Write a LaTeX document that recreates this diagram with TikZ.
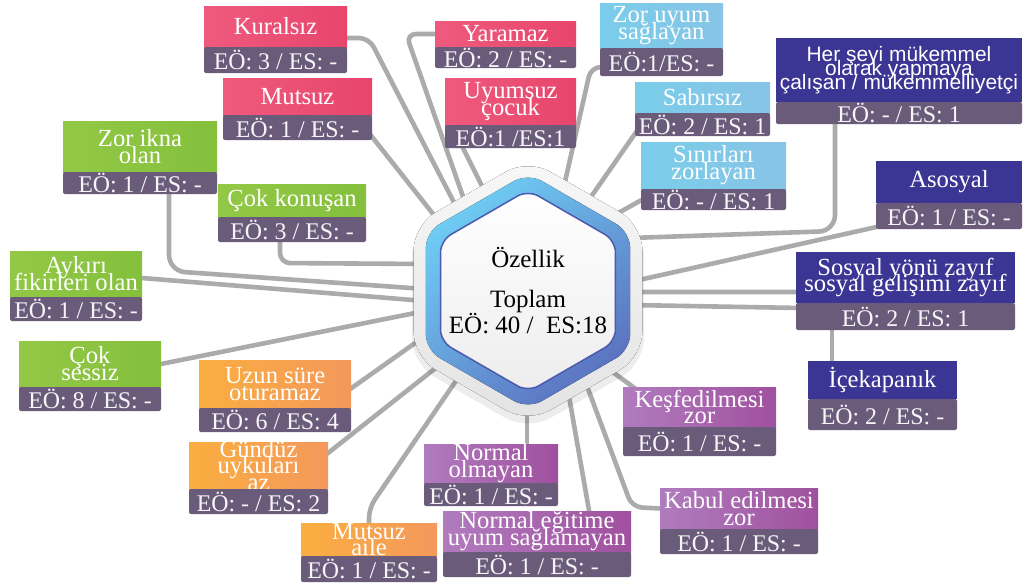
\documentclass[tikz,border=0pt]{standalone}
\usepackage{fontspec}
\setmainfont{Liberation Serif}
\newfontfamily\duzyazi{Liberation Sans}
\usetikzlibrary{positioning,calc}

\definecolor{pembeA}{HTML}{EE5A7D}
\definecolor{pembeB}{HTML}{E8456C}
\definecolor{yesilA}{HTML}{92C845}
\definecolor{yesilB}{HTML}{84C03C}
\definecolor{turuncuA}{HTML}{FAAE40}
\definecolor{turuncuB}{HTML}{F4985C}
\definecolor{morA}{HTML}{B07CBE}
\definecolor{morB}{HTML}{A0509E}
\definecolor{maviA}{HTML}{79CDEA}
\definecolor{maviB}{HTML}{88C4E6}
\definecolor{lacivert}{HTML}{3B3593}
\definecolor{altrenk}{HTML}{6B5B7B}
\definecolor{cizgi}{HTML}{ABABAB}
\definecolor{halkaA}{HTML}{6FCDF4}
\definecolor{halkaB}{HTML}{5B72C0}
\definecolor{kenar}{HTML}{4A5AAE}

\newcommand{\px}{0.02cm}
\newcommand{\basyazi}{\fontsize{14}{9.6}\selectfont\lineskiplimit=-20pt\relax}
\newcommand{\sansyazi}{\duzyazi\fontsize{11.9}{7.9}\selectfont\lineskiplimit=-20pt\relax}
\newcommand{\kart}[9]{%
  \node[baslik, #6, minimum width=#3*\px, minimum height=#4*\px] (#1) at #2 {};
  \node[yazi, #7] (#1-y) at (#1.center) {#8};
  \node[altlik, minimum width=#3*\px, minimum height=#5*\px, below=0pt of #1] (#1-a) {#9};
}
\def\altigen#1{+(90:#1) -- +(150:#1) -- +(210:#1) -- +(270:#1) -- +(330:#1) -- +(30:#1) -- cycle}

\pgfdeclarelayer{arka}
\pgfsetlayers{arka,main}

\tikzset{
  baslik/.style={rectangle, anchor=north west, inner sep=0pt, outer sep=0pt},
  pembe/.style={left color=pembeA, right color=pembeB},
  yesil/.style={left color=yesilA, right color=yesilB},
  turuncu/.style={left color=turuncuA, right color=turuncuB},
  mor/.style={left color=morA, right color=morB},
  mavi/.style={left color=maviA, right color=maviB},
  lacivertk/.style={fill=lacivert},
  yazi/.style={text=white, align=center, inner sep=0pt, font=\basyazi},
  altlik/.style={rectangle, fill=altrenk, inner sep=0pt, outer sep=0pt, rounded corners=2*\px, text=white!94!altrenk, font=\fontsize{13.6}{14}\selectfont},
  bag/.style={draw=cizgi, line width=4.6*\px, rounded corners=10*\px},
}

\begin{document}
\begin{tikzpicture}[x=0.02cm, y=-0.02cm]
\useasboundingbox (0,0) rectangle (1025,582);

\kart{kuralsiz}{(204,6)}{143}{41}{26}{pembe}{}{Kuralsız}{EÖ: 3 / ES: -}
\kart{mutsuz}{(223,78)}{149}{37}{25}{pembe}{}{Mutsuz}{EÖ: 1 / ES: -}
\kart{yaramaz}{(435,21)}{141}{26}{21}{pembe}{}{Yaramaz}{EÖ: 2 / ES: -}
\kart{uyumsuz}{(445,78)}{131}{47}{23}{pembe}{}{Uyumsuz\\çocuk}{EÖ:1 /ES:1}
\kart{zorikna}{(63,121)}{154}{51}{22}{yesil}{}{Zor ikna\\olan}{EÖ: 1 / ES: -}
\kart{cokkonusan}{(218,184)}{148}{33}{25}{yesil}{}{Çok konuşan}{EÖ: 3 / ES: -}
\kart{aykiri}{(10,251)}{132}{46}{24}{yesil}{}{Aykırı\\fikirleri olan}{EÖ: 1 / ES: -}
\kart{coksessiz}{(19,341)}{142}{46}{24}{yesil}{}{Çok\\sessiz}{EÖ: 8 / ES: -}
\kart{uzunsure}{(199,360)}{152}{48}{24}{turuncu}{}{Uzun süre\\oturamaz}{EÖ: 6 / ES: 4}
\kart{gunduz}{(189,442)}{139}{47}{25}{turuncu}{}{Gündüz\\uykuları\\az}{EÖ: - / ES: 2}
\kart{mutsuzaile}{(301,523)}{136}{33}{26}{turuncu}{}{Mutsuz\\aile}{EÖ: 1 / ES: -}
\kart{normalolmayan}{(424,444)}{134}{39}{23}{mor}{}{Normal\\olmayan}{EÖ: 1 / ES: -}
\kart{normalegitime}{(443,511)}{188}{41}{25}{mor}{}{Normal eğitime\\uyum sağlamayan}{EÖ: 1 / ES: -}
\kart{kesfedilmesi}{(623,387)}{153}{40}{29}{mor}{}{Keşfedilmesi\\zor}{EÖ: 1 / ES: -}
\kart{kabul}{(660,488)}{158}{41}{25}{mor}{}{Kabul edilmesi\\zor}{EÖ: 1 / ES: -}
\kart{zoruyum}{(600,3)}{123}{45}{28}{mavi}{}{Zor uyum\\sağlayan}{EÖ:1/ES: -}
\kart{sabirsiz}{(635,82)}{135}{31}{23}{mavi}{}{Sabırsız}{EÖ: 2 / ES: 1}
\kart{sinirlari}{(641,142)}{145}{47}{21}{mavi}{}{Sınırları\\zorlayan}{EÖ: - / ES: 1}
\kart{mukemmel}{(776,38)}{246}{64}{22}{lacivertk}{font=\sansyazi}{Her şeyi mükemmel\\olarak yapmaya\\çalışan / mükemmelliyetçi}{EÖ: - / ES: 1}
\kart{asosyal}{(876,161)}{146}{42}{26}{lacivertk}{}{Asosyal}{EÖ: 1 / ES: -}
\kart{sosyal}{(796,252)}{219}{51}{27}{lacivertk}{}{Sosyal yönü zayıf\\sosyal gelişimi zayıf}{EÖ: 2 / ES: 1}
\kart{icekapanik}{(808,361)}{149}{38}{31}{lacivertk}{}{İçekapanık}{EÖ: 2 / ES: -}

\coordinate (merkez) at (528,291);
\fill[black, opacity=0.07, rounded corners=26*\px] ($(merkez)+(0,6)$) \altigen{134};
\fill[top color=gray!6, bottom color=gray!22, rounded corners=25*\px] (merkez) \altigen{132};
\fill[top color=halkaA, bottom color=halkaB, shading angle=40, rounded corners=16*\px] (merkez) \altigen{118};
\filldraw[draw=kenar, line width=1.5*\px, top color=white, bottom color=gray!14, rounded corners=12*\px] (merkez) \altigen{101};
\node[font=\fontsize{14.2}{15}\selectfont] (ozellik) at (528,258) {Özellik};
\node[align=center, font=\fontsize{14.2}{15.3}\selectfont] (toplam) at (528,312) {Toplam\\EÖ: 40 /\ \ ES:18};

\foreach \ad/\xx/\yy in {hKur/460/214, hMut/441/224, hYar/467/208, hUyu/488/198, hZor/562/195,
  hSab/586/204, hSin/604/221, hMuk/630/238, hAso/630/282, hSos/630/292, hSos2/630/305,
  hKes/603/365, hKab/584/378, hNeg/567/385, hNol/527/405, hMai/462/372, hGun/442/363,
  hUzu/425/336, hSes/425/311, hAyk/425/301, hZik/425/289, hCok/425/264}
  \coordinate (\ad) at (\xx,\yy);

\begin{pgfonlayer}{arka}
\fill[white] (0,0) rectangle (1025,582);
\draw[bag] ($(kuralsiz.south east)+(-5,-9)$) -- (369,38) -- (hKur);
\draw[bag] ($(mutsuz-a.east)+(-5,3)$) -- (hMut);
\draw[bag] (yaramaz.west) -- (406,34) -- (hYar);
\draw[bag] ($(uyumsuz-a.south west)+(14,-8)$) -- (hUyu);
\draw[bag] ($(zoruyum-a.south west)+(5,-9)$) -- (591,67) -- (hZor);
\draw[bag] ($(sabirsiz-a.west)+(5,2)$) -- (hSab);
\draw[bag] ($(sinirlari-a.west)+(5,-2)$) -- (hSin);
\draw[bag, rounded corners=16*\px] ($(mukemmel-a.south west)+(59,-5)$) -- (835,231) -- (hMuk);
\draw[bag] ($(asosyal-a.south west)+(5,-3)$) -- (hAso);
\draw[bag] ($(sosyal.south west)+(5,-11)$) -- (hSos);
\draw[bag] ($(sosyal-a.north west)+(5,5)$) -- (hSos2);
\draw[bag] ($(sosyal-a.south west)+(36,-5)$) -- ($(icekapanik.north west)+(24,5)$);
\draw[bag] (hKes) -- ($(kesfedilmesi.north west)+(17,5)$);
\draw[bag] (hKab) -- (632,507) -- (kabul.west);
\draw[bag] (hNeg) -- ($(normalegitime.north west)+(147,5)$);
\draw[bag] (hNol) -- ($(normalolmayan.north west)+(103,5)$);
\draw[bag] (hMai) -- (369,508) -- (mutsuzaile.north);
\draw[bag] (hGun) -- ($(gunduz.north east)+(-5,15)$);
\draw[bag] (hUzu) -- ($(uzunsure.east)+(-5,8)$);
\draw[bag] (hSes) -- (coksessiz.east);
\draw[bag] (hAyk) -- ($(aykiri.east)+(0,4)$);
\draw[bag, rounded corners=16*\px] ($(zorikna-a.south west)+(106,-5)$) -- (169,271) -- (hZik);
\draw[bag] ($(cokkonusan-a.south west)+(62,-5)$) -- (280,263) -- (hCok);
\end{pgfonlayer}
\end{tikzpicture}
\end{document}
